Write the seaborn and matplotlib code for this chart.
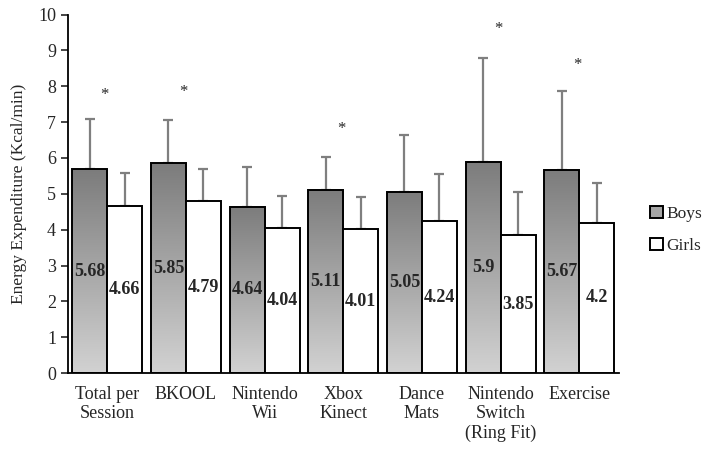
import matplotlib
matplotlib.use("Agg")
import matplotlib.pyplot as plt
from matplotlib.patches import Patch
import seaborn as sns
import pandas as pd
import numpy as np

# Values
categories = ["Total per\nSession", "BKOOL", "Nintendo\nWii", "Xbox\nKinect",
              "Dance\nMats", "Nintendo\nSwitch\n(Ring Fit)", "Exercise"]
boys_mean = [5.68, 5.85, 4.64, 5.11, 5.05, 5.90, 5.67]
girls_mean = [4.66, 4.79, 4.04, 4.01, 4.24, 3.85, 4.20]
boys_sd = [1.40, 1.20, 1.11, 0.91, 1.60, 2.90, 2.20]
girls_sd = [0.91, 0.90, 0.91, 0.91, 1.31, 1.20, 1.10]
# asterisk heights (None = no significant difference)
star_y = [7.75, 7.85, None, 6.82, None, 9.6, 8.6]

df = pd.DataFrame({
    "Activity": categories * 2,
    "Sex": ["Boys"] * len(categories) + ["Girls"] * len(categories),
    "EE": boys_mean + girls_mean,
})

sns.set_style("white")
plt.rcParams["font.family"] = ["Liberation Serif", "DejaVu Serif"]

fig = plt.figure(figsize=(7.07, 4.54), dpi=100)
ax = fig.add_axes([0.096, 0.178, 0.779, 0.79])

sns.barplot(data=df, x="Activity", y="EE", hue="Sex",
            palette={"Boys": "#a6a6a6", "Girls": "white"},
            width=0.89, edgecolor="black", linewidth=1.4,
            errorbar=None, legend=False, ax=ax, zorder=3)

# gradient fill for the boys bars
grad = np.linspace(0, 1, 256).reshape(-1, 1)
cmap = matplotlib.colors.LinearSegmentedColormap.from_list("g", ["#d2d2d2", "#7c7c7c"])
for bar in ax.containers[0]:
    x0, w, h = bar.get_x(), bar.get_width(), bar.get_height()
    ax.imshow(grad, extent=[x0, x0 + w, 0, h], origin="lower", aspect="auto",
              cmap=cmap, zorder=2)
    bar.set_facecolor("none")

# one-sided error bars
for cont, means, sds in [(ax.containers[0], boys_mean, boys_sd),
                         (ax.containers[1], girls_mean, girls_sd)]:
    xs = [b.get_x() + b.get_width() / 2 for b in cont]
    ax.errorbar(xs, means, yerr=[np.zeros(len(sds)), sds], fmt="none",
                ecolor="#7f7f7f", elinewidth=1.6, capsize=3.5, capthick=1.6,
                zorder=1)

# value labels in the middle of each bar
for cont, means in [(ax.containers[0], boys_mean), (ax.containers[1], girls_mean)]:
    for b, v in zip(cont, means):
        ax.text(b.get_x() + b.get_width() / 2, v / 2, f"{v:g}", ha="center",
                va="center", fontsize=13, fontweight="bold", zorder=5)

# significance asterisks
for i, sy in enumerate(star_y):
    if sy is not None:
        ax.text(i - 0.03, sy, "*", ha="center", va="center", fontsize=12)

ax.set_xlim(-0.5, len(categories) - 0.5)
ax.set_ylim(0, 10)
ax.set_yticks(range(0, 11))
ax.set_xlabel("")
ax.set_ylabel("Energy Expenditure (Kcal/min)", fontsize=12.5, labelpad=8)
ax.tick_params(axis="y", direction="out", length=5, width=1.2, labelsize=13, left=True)
ax.tick_params(axis="x", length=0, labelsize=13, pad=9)
sns.despine(ax=ax)
for s in ["left", "bottom"]:
    ax.spines[s].set_color("black")
    ax.spines[s].set_linewidth(1.3)

handles = [Patch(facecolor="#a6a6a6", edgecolor="black", linewidth=1.4),
           Patch(facecolor="white", edgecolor="black", linewidth=1.4)]
ax.legend(handles, ["Boys", "Girls"], loc="center left",
          bbox_to_anchor=(1.045, 0.40), frameon=False, fontsize=12.5,
          handlelength=0.7, handleheight=0.7, handletextpad=0.2,
          labelspacing=0.9, borderaxespad=0)

fig.savefig("out.png", dpi=100)
